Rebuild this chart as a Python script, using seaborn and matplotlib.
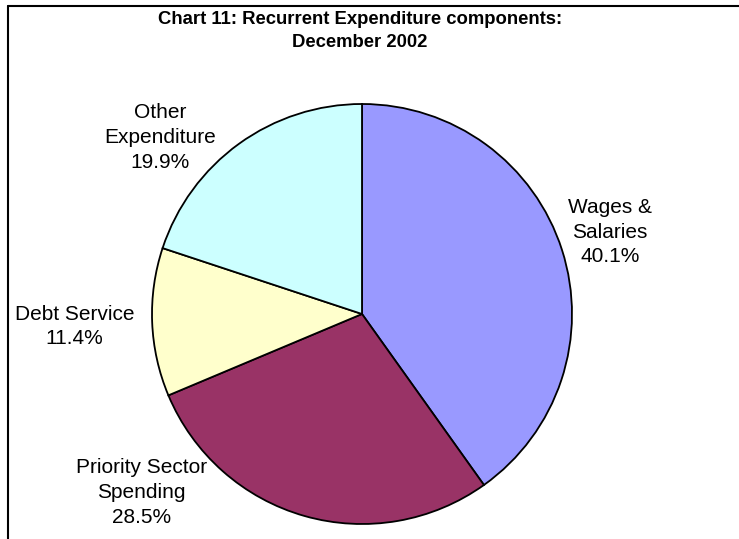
import matplotlib
matplotlib.use("Agg")
import matplotlib.pyplot as plt
import seaborn as sns
from matplotlib.lines import Line2D

# data
components = ["Wages &\nSalaries", "Priority Sector\nSpending", "Debt Service", "Other\nExpenditure"]
shares = [40.1, 28.5, 11.4, 19.9]
colors = ["#9999FF", "#993366", "#FFFFCC", "#CCFFFF"]

# label placement (pie radius = 1)
label_pos = [(1.18, 0.39), (-1.05, -0.85), (-1.37, -0.06), (-0.96, 0.84)]

sns.set_style("white")
plt.rcParams["font.family"] = ["Liberation Sans", "DejaVu Sans"]

W, H = 739, 539
fig = plt.figure(figsize=(W / 100, H / 100), dpi=100)

# pie centre and radius in pixels
cx, cy, r = 362, 314, 210
ax = fig.add_axes([(cx - r) / W, (H - cy - r) / H, 2 * r / W, 2 * r / H])

ax.pie(shares, colors=colors, startangle=90, counterclock=False, radius=1,
       wedgeprops=dict(edgecolor="black", linewidth=1.3))
ax.set_xlim(-1, 1)
ax.set_ylim(-1, 1)
ax.set_aspect("equal")
ax.axis("off")

for name, val, (x, y) in zip(components, shares, label_pos):
    ax.text(x, y, f"{name}\n{val:.1f}%", ha="center", va="center", color="black",
            fontsize=15, linespacing=1.38, clip_on=False)

fig.text(360 / W, 1 - 11 / H, "Chart 11: Recurrent Expenditure components:\nDecember 2002",
         ha="center", va="top", fontsize=13.3, fontweight="bold", color="black",
         linespacing=1.45)

# chart border (only left and top visible)
fig.add_artist(Line2D([8 / W, 8 / W], [0, 1 - 6 / H], color="black", lw=1.5, transform=fig.transFigure))
fig.add_artist(Line2D([8 / W, 1], [1 - 6 / H, 1 - 6 / H], color="black", lw=1.5, transform=fig.transFigure))

fig.savefig("out.png", dpi=100)
